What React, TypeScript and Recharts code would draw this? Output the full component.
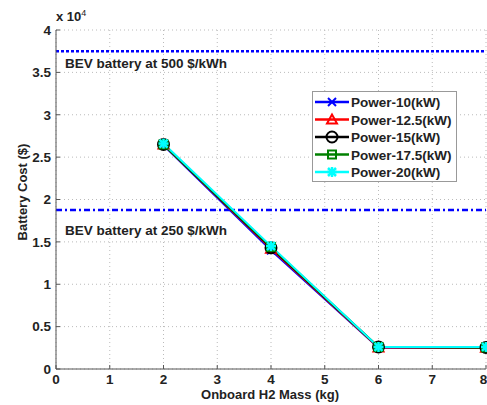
import {
  LineChart,
  Line,
  XAxis,
  YAxis,
  CartesianGrid,
  ReferenceLine,
} from "recharts"

const mass = [2, 4, 6, 8]
const power10 = [26400, 14000, 2500, 2500]
const power125 = [26500, 14200, 2550, 2500]
const power15 = [26500, 14300, 2600, 2550]
const power175 = [26500, 14400, 2600, 2550]
const power20 = [26600, 14500, 2600, 2600]
const xTicks = [0, 1, 2, 3, 4, 5, 6, 7, 8]
const yTicks = [0, 5000, 10000, 15000, 20000, 25000, 30000, 35000, 40000]
const bev500 = 37500
const bev250 = 18750

const data = mass.map((m, i) => ({
  mass: m,
  p10: power10[i],
  p125: power125[i],
  p15: power15[i],
  p175: power175[i],
  p20: power20[i],
}))

const font = "'Liberation Sans', Arial, sans-serif"

const drawMarker = (kind: string, color: string, cx: number, cy: number) => {
  if (kind === "x")
    return (
      <g stroke={color} strokeWidth={2}>
        <line x1={cx - 4} y1={cy - 4} x2={cx + 4} y2={cy + 4} />
        <line x1={cx - 4} y1={cy + 4} x2={cx + 4} y2={cy - 4} />
      </g>
    )
  if (kind === "tri")
    return (
      <polygon
        points={`${cx},${cy - 5} ${cx - 5},${cy + 4} ${cx + 5},${cy + 4}`}
        fill="none"
        stroke={color}
        strokeWidth={2}
      />
    )
  if (kind === "circle")
    return <circle cx={cx} cy={cy} r={5.5} fill="none" stroke={color} strokeWidth={2} />
  if (kind === "square")
    return (
      <rect x={cx - 4} y={cy - 4} width={8} height={8} fill="none" stroke={color} strokeWidth={2} />
    )
  return (
    <g stroke={color} strokeWidth={2.5}>
      <line x1={cx - 5} y1={cy} x2={cx + 5} y2={cy} />
      <line x1={cx} y1={cy - 5} x2={cx} y2={cy + 5} />
      <line x1={cx - 4} y1={cy - 4} x2={cx + 4} y2={cy + 4} />
      <line x1={cx - 4} y1={cy + 4} x2={cx + 4} y2={cy - 4} />
    </g>
  )
}

const series = [
  { key: "p10", name: "Power-10(kW)", color: "#0000ff", kind: "x" },
  { key: "p125", name: "Power-12.5(kW)", color: "#ff0000", kind: "tri" },
  { key: "p15", name: "Power-15(kW)", color: "#000000", kind: "circle" },
  { key: "p175", name: "Power-17.5(kW)", color: "#008000", kind: "square" },
  { key: "p20", name: "Power-20(kW)", color: "#00ffff", kind: "star" },
]

const LegendBox = () => (
  <svg width={146} height={92} style={{ display: "block" }}>
    <rect x={0.5} y={0.5} width={144} height={90} fill="#fff" stroke="#999" />
    {series.map((s, i) => {
      const y = 11 + i * 17.5
      return (
        <g key={s.key}>
          <line x1={3} y1={y} x2={37} y2={y} stroke={s.color} strokeWidth={2.5} />
          {drawMarker(s.kind, s.color, 20, y)}
          <text
            x={39}
            y={y + 5}
            fontFamily={font}
            fontWeight="bold"
            fontSize={13.5}
            fill="#222"
          >
            {s.name}
          </text>
        </g>
      )
    })}
  </svg>
)

const refLabel = (text: string, dy: number) => (props: any) => {
  const vb = props.viewBox
  return (
    <text
      x={vb.x + 9}
      y={vb.y + dy}
      fontFamily={font}
      fontWeight="bold"
      fontSize={13.5}
      fill="#222"
    >
      {text}
    </text>
  )
}

const tickStyle = { fontFamily: font, fontWeight: "bold", fontSize: 13.5, fill: "#222" }

const App = () => {
  return (
    <div style={{ position: "absolute", left: 0, top: 0, width: 487, height: 405, background: "#fff" }}>
      <LineChart
        width={487}
        height={405}
        data={data}
        margin={{ top: 30, right: 1, left: 0, bottom: 0 }}
      >
        <CartesianGrid stroke="#bbb" strokeDasharray="1 3" />
        <XAxis
          dataKey="mass"
          type="number"
          domain={[0, 8]}
          ticks={xTicks}
          tick={tickStyle}
          tickLine={{ stroke: "#555" }}
          tickSize={-4}
          axisLine={{ stroke: "#555" }}
          tickMargin={9}
          height={36}
        />
        <XAxis
          xAxisId="top"
          orientation="top"
          type="number"
          domain={[0, 8]}
          ticks={xTicks}
          tick={false}
          tickLine={false}
          axisLine={{ stroke: "#555" }}
          height={0}
        />
        <YAxis
          type="number"
          domain={[0, 40000]}
          ticks={yTicks}
          tick={tickStyle}
          tickLine={{ stroke: "#555" }}
          tickSize={-4}
          axisLine={{ stroke: "#555" }}
          tickFormatter={(v: number) => String(v / 10000)}
          width={56}
          tickMargin={9}
        />
        <ReferenceLine
          y={bev500}
          stroke="#0000ff"
          strokeWidth={2.5}
          strokeDasharray="3 2"
          label={refLabel("BEV battery at 500 $/kWh", 17)}
        />
        <ReferenceLine
          y={bev250}
          stroke="#0000ff"
          strokeWidth={2.5}
          strokeDasharray="6 3 2 3"
          label={refLabel("BEV battery at 250 $/kWh", 25)}
        />
        {series.map((s) => (
          <Line
            key={s.key}
            dataKey={s.key}
            name={s.name}
            stroke={s.color}
            strokeWidth={2}
            isAnimationActive={false}
            dot={(p: any) => <g key={p.index}>{drawMarker(s.kind, s.color, p.cx, p.cy)}</g>}
            activeDot={false}
          />
        ))}
      </LineChart>
      <div style={{ position: "absolute", left: 312, top: 91 }}>
        <LegendBox />
      </div>
      <div
        style={{
          position: "absolute",
          left: 56,
          top: 8,
          fontFamily: font,
          fontWeight: "bold",
          fontSize: 13,
          color: "#222",
        }}
      >
        x 10<sup style={{ fontSize: 9, fontWeight: "normal" }}>4</sup>
      </div>
      <div
        style={{
          position: "absolute",
          left: 270,
          top: 387,
          transform: "translateX(-50%)",
          fontFamily: font,
          fontWeight: "bold",
          fontSize: 13,
          lineHeight: "15px",
          color: "#222",
          whiteSpace: "nowrap",
        }}
      >
        Onboard H2 Mass (kg)
      </div>
      <div
        style={{
          position: "absolute",
          left: 22,
          top: 192,
          transform: "translate(-50%, -50%) rotate(-90deg)",
          fontFamily: font,
          fontWeight: "bold",
          fontSize: 13,
          lineHeight: "15px",
          color: "#222",
          whiteSpace: "nowrap",
        }}
      >
        Battery Cost ($)
      </div>
    </div>
  )
}

export default App
